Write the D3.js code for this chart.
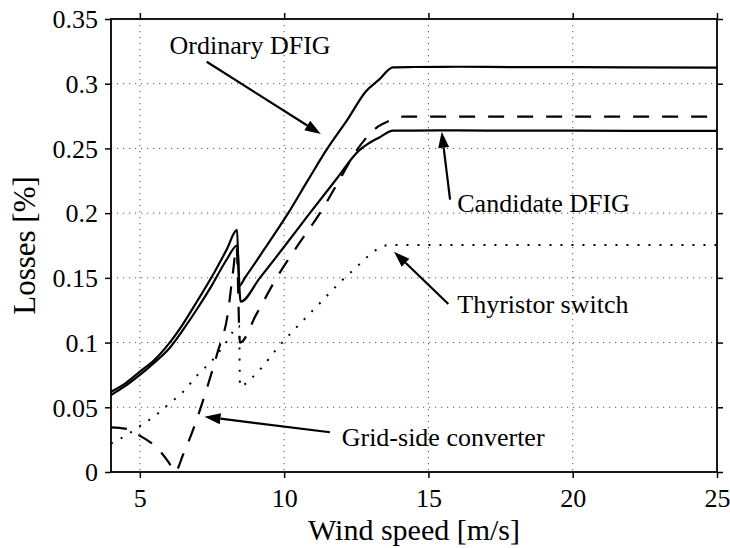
<!DOCTYPE html>
<html><head><meta charset="utf-8">
<script src="https://cdn.jsdelivr.net/npm/d3@7"></script>
<style>
body{margin:0;background:#fff}
svg{display:block;background:#fff}
</style>
</head><body>
<svg id="chart" width="730" height="548" font-family="Liberation Serif"></svg>
<script>
// ---------- data ----------
const xTicks = [5, 10, 15, 20, 25];
const xTickLabels = ["5", "10", "15", "20", "25"];
const yTicks = [0, 0.05, 0.1, 0.15, 0.2, 0.25, 0.3, 0.35];
const yTickLabels = ["0", "0.05", "0.1", "0.15", "0.2", "0.25", "0.3", "0.35"];

const ordinaryX = [4, 4.5, 5, 5.5, 6, 6.5, 7, 7.5, 8, 8.37, 8.44, 8.64, 9.4, 10.14, 10.8, 11.5, 12.2, 12.83, 13.3, 13.77, 14.5, 16, 18, 20, 22, 25];
const ordinaryY = [0.062, 0.0685, 0.0775, 0.0865, 0.099, 0.1145, 0.1325, 0.151, 0.1715, 0.187, 0.1437, 0.150, 0.175, 0.200, 0.2245, 0.250, 0.2725, 0.294, 0.3034, 0.3127, 0.3129, 0.3131, 0.3128, 0.3128, 0.3127, 0.3125];

const candidateX = [4, 4.5, 5, 5.5, 6, 6.5, 7, 7.5, 8, 8.37, 8.49, 9.16, 10.0, 10.89, 11.8, 12.6, 12.9, 13.3, 13.78, 14.5, 16, 18, 20, 22, 25];
const candidateY = [0.0595, 0.0665, 0.075, 0.0845, 0.095, 0.110, 0.1265, 0.1444, 0.1638, 0.175, 0.1316, 0.150, 0.174, 0.200, 0.226, 0.2485, 0.2535, 0.2585, 0.2637, 0.2638, 0.2639, 0.2637, 0.2637, 0.2636, 0.2636];

const gridSideX = [4, 4.5, 5, 5.6, 6.0, 6.22, 6.5, 6.9, 7.3, 7.7, 8.05, 8.23, 8.35, 8.47, 9.04, 9.74, 10.5, 11.24, 11.9, 12.56, 13.26, 13.6, 14.1, 16, 20, 25];
const gridSideY = [0.0345, 0.0335, 0.028, 0.0185, 0.0075, 0.0, 0.0135, 0.036, 0.063, 0.093, 0.1226, 0.155, 0.174, 0.100, 0.122, 0.150, 0.176, 0.200, 0.225, 0.250, 0.267, 0.271, 0.2745, 0.2745, 0.2745, 0.2745];

const thyristorX = [4, 4.5, 5, 5.5, 6, 6.5, 7, 7.5, 8, 8.44, 8.47, 8.86, 9.96, 11.12, 12.27, 13.66, 16, 20, 25];
const thyristorY = [0.022, 0.028, 0.0355, 0.043, 0.0525, 0.062, 0.075, 0.086, 0.1005, 0.113, 0.066, 0.0724, 0.1007, 0.1277, 0.1535, 0.1754, 0.1754, 0.1754, 0.1754];

const xTitle = "Wind speed [m/s]";
const yTitle = "Losses [%]";

// annotation texts
const annotationLabels = ["Ordinary DFIG", "Candidate DFIG", "Thyristor switch", "Grid-side converter"];

// ---------- layout ----------
const FONT = "Liberation Serif";
const W = 730, H = 548;
const m = {left: 111, right: 717, top: 19, bottom: 472};
const x = d3.scaleLinear().domain([4, 25]).range([m.left, m.right]);
const y = d3.scaleLinear().domain([0, 0.35]).range([m.bottom, m.top]);

// annotation placements in data coordinates (text anchor, arrow start, arrow tip)
const annotationLayout = [
  {text: [6.03, 0.3229], from: [7.316, 0.317], to: [11.27, 0.2611]},
  {text: [16.0, 0.2011], from: [15.75, 0.2105], to: [15.46, 0.2629]},
  {text: [16.0, 0.1226], from: [15.69, 0.1298], to: [13.807, 0.1702]},
  {text: [11.995, 0.0203], from: [11.589, 0.0307], to: [7.24, 0.0427]}
];

const svg = d3.select("#chart");
svg.append("rect").attr("width", W).attr("height", H).attr("fill", "#fff");

// grid
const grid = svg.append("g").attr("stroke", "#555").attr("stroke-width", 1).attr("stroke-dasharray", "1.2,4.8");
xTicks.filter(t => t > 4 && t < 25).forEach(t => {
  grid.append("line").attr("x1", x(t)).attr("x2", x(t)).attr("y1", y(0.35)).attr("y2", y(0));
});
yTicks.filter(t => t > 0 && t < 0.35).forEach(t => {
  grid.append("line").attr("x1", x(4)).attr("x2", x(25)).attr("y1", y(t)).attr("y2", y(t));
});

// axes using d3 axis generators
const tickLen = 6;
const bottomAxis = svg.append("g").attr("transform", `translate(0,${m.bottom})`)
  .call(d3.axisBottom(x).tickValues(xTicks).tickFormat((d, i) => xTickLabels[i]).tickSize(tickLen).tickPadding(16));
const topAxis = svg.append("g").attr("transform", `translate(0,${m.top})`)
  .call(d3.axisTop(x).tickValues(xTicks).tickFormat("").tickSize(tickLen));
const leftAxis = svg.append("g").attr("transform", `translate(${m.left},0)`)
  .call(d3.axisLeft(y).tickValues(yTicks).tickFormat((d, i) => yTickLabels[i]).tickSize(tickLen).tickPadding(7));
const rightAxis = svg.append("g").attr("transform", `translate(${m.right},0)`)
  .call(d3.axisRight(y).tickValues(yTicks).tickFormat("").tickSize(tickLen));
[bottomAxis, topAxis, leftAxis, rightAxis].forEach(a => {
  a.attr("font-family", FONT).attr("font-size", 26);
  a.select(".domain").remove();
  a.selectAll(".tick line").attr("stroke", "#000").attr("stroke-width", 1.5);
  a.selectAll("text").attr("font-size", 26).attr("font-family", FONT).attr("fill", "#000");
});
bottomAxis.selectAll("text").attr("dy", null).attr("y", 35);
leftAxis.selectAll("text").attr("dy", "0.34em");

// frame
svg.append("rect").attr("x", m.left).attr("y", m.top).attr("width", m.right - m.left).attr("height", m.bottom - m.top)
  .attr("fill", "none").attr("stroke", "#000").attr("stroke-width", 1.8);

// lines
const line = d3.line().x(d => x(d[0])).y(d => y(d[1])).curve(d3.curveMonotoneX);
const zip = (xs, ys) => xs.map((v, i) => [v, ys[i]]);
const series = [
  {d: zip(thyristorX, thyristorY), dash: "2,9", w: 2},
  {d: zip(gridSideX, gridSideY), dash: "16,13", w: 2.2},
  {d: zip(candidateX, candidateY), dash: null, w: 2.2},
  {d: zip(ordinaryX, ordinaryY), dash: null, w: 2.2}
];
const plot = svg.append("g");
series.forEach(s => {
  plot.append("path").datum(s.d).attr("d", line).attr("fill", "none").attr("stroke", "#000")
    .attr("stroke-width", s.w).attr("stroke-linejoin", "round").attr("stroke-linecap", "butt")
    .attr("stroke-dasharray", s.dash);
});

// annotations
const ann = svg.append("g");
annotationLayout.forEach((a, i) => {
  ann.append("text").attr("x", x(a.text[0])).attr("y", y(a.text[1])).attr("font-size", 26)
    .attr("font-family", FONT).attr("fill", "#000").text(annotationLabels[i]);
  const x1 = x(a.from[0]), y1 = y(a.from[1]), x2 = x(a.to[0]), y2 = y(a.to[1]);
  const ang = Math.atan2(y2 - y1, x2 - x1);
  const L = 16, hw = 5.5;
  const bx = x2 - L * Math.cos(ang), by = y2 - L * Math.sin(ang);
  ann.append("line").attr("x1", x1).attr("y1", y1).attr("x2", bx).attr("y2", by).attr("stroke", "#000").attr("stroke-width", 2.2);
  const p1 = [bx + hw * Math.sin(ang), by - hw * Math.cos(ang)];
  const p2 = [bx - hw * Math.sin(ang), by + hw * Math.cos(ang)];
  ann.append("polygon").attr("points", [[x2, y2], p1, p2].map(p => p.join(",")).join(" ")).attr("fill", "#000");
});

// axis titles
svg.append("text").attr("x", (m.left + m.right) / 2).attr("y", 540).attr("text-anchor", "middle").attr("font-size", 30)
  .attr("font-family", FONT).attr("fill", "#000").text(xTitle);
svg.append("text").attr("transform", `translate(35,${(m.top + m.bottom) / 2}) rotate(-90)`).attr("text-anchor", "middle").attr("font-size", 31)
  .attr("font-family", FONT).attr("fill", "#000").text(yTitle);
</script>
</body></html>
